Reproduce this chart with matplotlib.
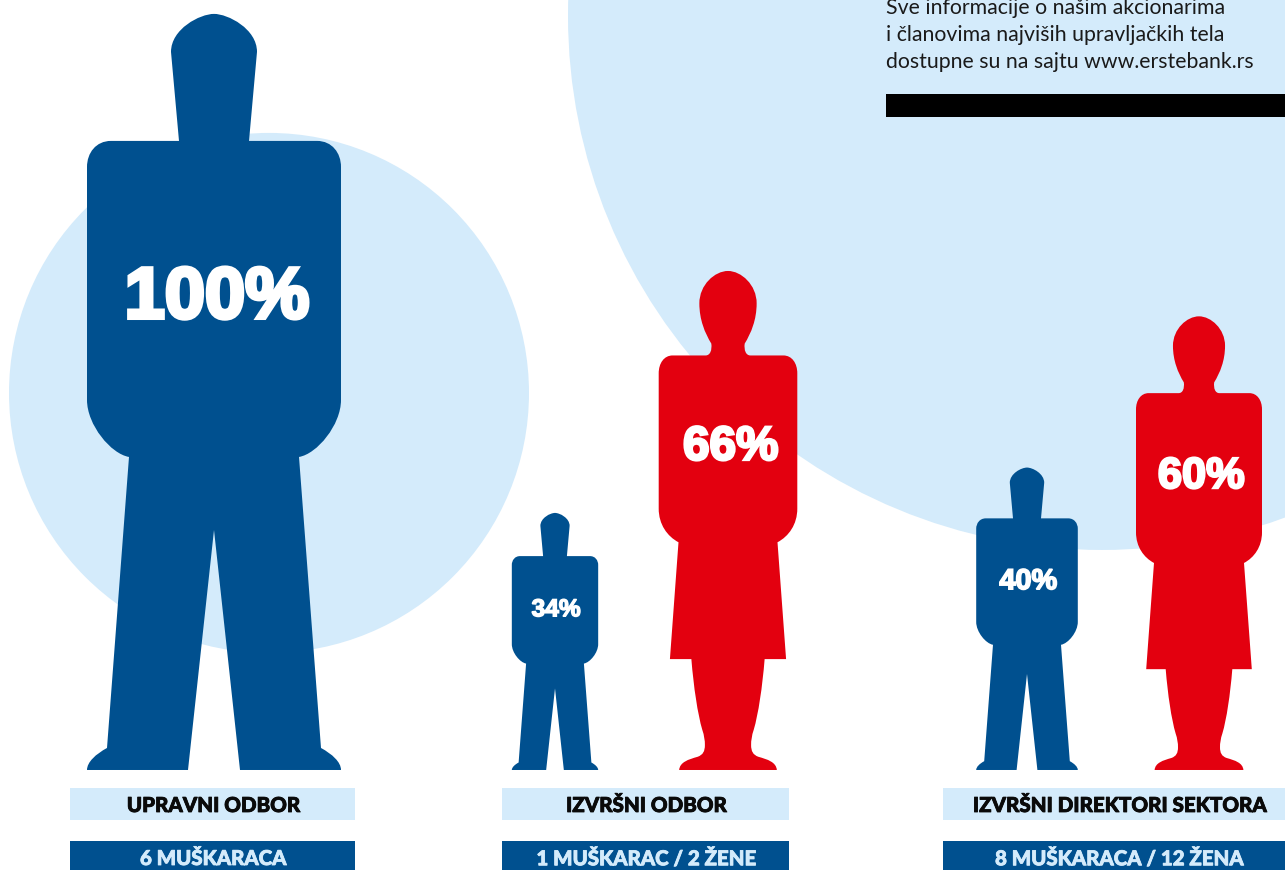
import matplotlib
matplotlib.use("Agg")
import matplotlib.pyplot as plt
from matplotlib.patches import Circle, PathPatch, Rectangle
from matplotlib.path import Path
import matplotlib.patheffects as pe

# shares per board, in percent
groups = ["UPRAVNI ODBOR", "IZVRŠNI ODBOR", "IZVRŠNI DIREKTORI SEKTORA"]
counts = ["6 MUŠKARACA", "1 MUŠKARAC / 2 ŽENE", "8 MUŠKARACA / 12 ŽENA"]
men_share = [100, 34, 40]
women_share = [None, 66, 60]
note_lines = [
    "Sve informacije o našim akcionarima",
    "i članovima najviših upravljačkih tela",
    "dostupne su na sajtu www.erstebank.rs",
]

BLUE = "#00508F"
RED = "#E3000F"
LIGHT = "#D4EBFB"
BASE_Y = 770

MEN_X = [214, 555, 1027]
WOMEN_X = [None, 728, 1199]
BAR_X = [(70, 355), (502, 789), (943, 1285)]
LABEL_X = [213, 646, 1119]

# right half of each silhouette at full size: (dx, height) points,
# one point is a line, three points are a bezier
MAN_START = (0, 756)
MAN_HALF = [
    [(14, 756), (43, 741), (43, 718)],
    [(35, 629)],
    [(103, 629)],
    [(118, 629), (127, 617), (127, 603)],
    [(127, 370)],
    [(127, 345), (103, 316), (85, 313)],
    [(107, 22)],
    [(118, 16), (127, 8), (127, 0)],
    [(26, 0)],
    [(0, 240)],
]
WOMAN_START = (0, 756)
WOMAN_HALF = [
    [(20, 756), (43.4, 735), (43.4, 707)],
    [(43.4, 682), (35, 662), (25.3, 646)],
    [(24, 636), (27, 628), (34, 628)],
    [(84, 628)],
    [(97, 628), (105, 616), (105, 601)],
    [(105, 396)],
    [(105, 372), (92, 354), (75, 345)],
    [(88, 168)],
    [(55.5, 168)],
    [(52, 125), (46, 85), (39, 61)],
    [(36, 52), (35, 45), (35, 38)],
    [(35, 28), (38, 23), (46, 20)],
    [(60, 16), (73, 12), (74, 0)],
    [(0, 0)],
]


def silhouette(start, half, cx, share):
    """Mirror a half outline and scale it to the given share."""
    s = share / 100
    to_xy = lambda p, side: (cx + side * p[0] * s, BASE_Y - p[1] * s)
    verts = [to_xy(start, 1)]
    codes = [Path.MOVETO]
    ends = [start]
    for seg in half:
        verts += [to_xy(p, 1) for p in seg]
        codes += [Path.LINETO] if len(seg) == 1 else [Path.CURVE4] * 3
        ends.append(seg[-1])
    # walk back along the left side
    for i in range(len(half) - 1, -1, -1):
        seg = half[i]
        if len(seg) == 1:
            verts.append(to_xy(ends[i], -1))
            codes.append(Path.LINETO)
        else:
            verts += [to_xy(seg[1], -1), to_xy(seg[0], -1), to_xy(ends[i], -1)]
            codes += [Path.CURVE4] * 3
    verts.append(verts[0])
    codes.append(Path.CLOSEPOLY)
    return Path(verts, codes)


def pct_label(ax, cx, share, h, dx):
    s = share / 100
    txt = ax.text(cx + dx * s, BASE_Y - h * s, f"{share}%", color="white",
                  ha="center", va="baseline", family="Liberation Sans",
                  weight="bold", fontsize=52 * s, zorder=5)
    txt.set_path_effects([pe.withStroke(linewidth=3 * s, foreground="white",
                                        joinstyle="miter")])


fig = plt.figure(figsize=(12.85, 8.701), dpi=100)
ax = fig.add_axes([0, 0, 1, 1])
ax.set_xlim(0, 1285)
ax.set_ylim(870, 0)
ax.axis("off")

ax.add_patch(Circle((269, 393), 260, color=LIGHT, lw=0))
ax.add_patch(Circle((1102, 16), 534, color=LIGHT, lw=0))

for i, group in enumerate(groups):
    ax.add_patch(PathPatch(silhouette(MAN_START, MAN_HALF, MEN_X[i], men_share[i]),
                           facecolor=BLUE, lw=0, zorder=3))
    pct_label(ax, MEN_X[i], men_share[i], 452, 3)
    if women_share[i] is not None:
        ax.add_patch(PathPatch(silhouette(WOMAN_START, WOMAN_HALF, WOMEN_X[i], women_share[i]),
                               facecolor=RED, lw=0, zorder=3))
        pct_label(ax, WOMEN_X[i], women_share[i], 470, 4)

    x0, x1 = BAR_X[i]
    ax.add_patch(Rectangle((x0, 788), x1 - x0, 32, color=LIGHT, lw=0))
    ax.add_patch(Rectangle((x0, 841), x1 - x0, 29, color=BLUE, lw=0))
    heavy = [pe.withStroke(linewidth=0.6, foreground="#0a0a0a")]
    ax.text(LABEL_X[i], 805.5, group, color="#0a0a0a", ha="center", va="center",
            family="Lato", weight="black", fontsize=14.8, path_effects=heavy)
    heavy = [pe.withStroke(linewidth=0.6, foreground=LIGHT)]
    ax.text(LABEL_X[i], 858.5, counts[i], color=LIGHT, ha="center", va="center",
            family="Lato", weight="black", fontsize=14.7, path_effects=heavy)

# note in the top corner, the first line runs into the page edge
for line, base in zip(note_lines, [14, 41, 68]):
    ax.text(886, base, line, color="#1a1a1a", ha="left", va="baseline",
            family="Lato", fontsize=15.3)
ax.add_patch(Rectangle((886, 94), 399, 23, color="black", lw=0))

fig.savefig("out.png", dpi=100)
